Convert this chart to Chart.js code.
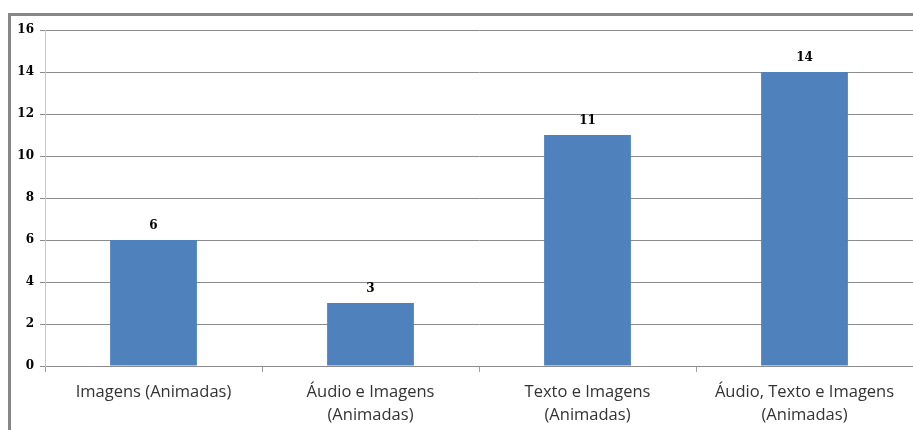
<!DOCTYPE html>
<html>
<head>
<meta charset="utf-8">
<script src="https://cdn.jsdelivr.net/npm/chart.js@4"></script>
<style>
  html, body { margin: 0; padding: 0; background: #fff; }
  #wrap  { position: relative; width: 913px; height: 430px; overflow: hidden; }
  #frame { position: absolute; left: 8px; top: 13px; width: 1000px; height: 500px;
           border-left: 3px solid #878787; border-top: 3px solid #878787; }
  canvas { position: absolute; left: 0; top: 0; }
</style>
</head>
<body>
<div id="wrap">
  <div id="frame"></div>
  <canvas id="chart" width="913" height="430"></canvas>
</div>
<script>
// Chart values
const categories = [
  'Imagens (Animadas)',
  ['Áudio e Imagens', '(Animadas)'],
  ['Texto e Imagens', '(Animadas)'],
  ['Áudio, Texto e Imagens', '(Animadas)']
]
const counts  = [6, 3, 11, 14]
const yMax    = 16
const yStep   = 2

// Draws the value above each bar
const valueLabels = {
  id: 'valueLabels',
  afterDatasetsDraw(chart)
  {
    const ctx  = chart.ctx
    const meta = chart.getDatasetMeta(0)
    ctx.save()
    ctx.font         = 'bold 12px "DejaVu Serif", serif'
    ctx.fillStyle    = '#000'
    ctx.textAlign    = 'center'
    ctx.textBaseline = 'middle'
    meta.data.forEach((bar, i) => {
      ctx.fillText(String(counts[i]), bar.x, bar.y - 14)
    })
    ctx.restore()
  }
}

new Chart(document.getElementById('chart'), {
  type: 'bar',
  data: {
    labels: categories,
    datasets: [{
      data:            counts,
      backgroundColor: '#4f81bd',
      barPercentage:   0.4,
      categoryPercentage: 1
    }]
  },
  options: {
    responsive: false,
    animation:  false,
    layout: { padding: { top: 30, right: 0, bottom: 0, left: 0 } },
    plugins: {
      legend:  { display: false },
      tooltip: { enabled: false }
    },
    scales: {
      x: {
        offset: true,
        grid: {
          offset:          true,
          drawOnChartArea: false,
          color:           '#a0a0a0',
          tickLength:      6
        },
        border: { color: '#8c8c8c' },
        ticks: {
          color:       '#333',
          font:        { family: '"Open Sans", sans-serif', size: 16.5, lineHeight: 1.4 },
          maxRotation: 0,
          padding:     9
        },
        afterFit(scale) { scale.height = 64 }
      },
      y: {
        min: 0,
        max: yMax,
        ticks: {
          stepSize: yStep,
          color:    '#000',
          font:     { family: '"DejaVu Serif", serif', size: 12, weight: 'bold' },
          padding:  6
        },
        grid: {
          color:      '#8c8c8c',
          tickLength: 5
        },
        border: { color: '#c8c8c8' },
        afterFit(scale) { scale.width = 45 }
      }
    }
  },
  plugins: [valueLabels]
})
</script>
</body>
</html>
